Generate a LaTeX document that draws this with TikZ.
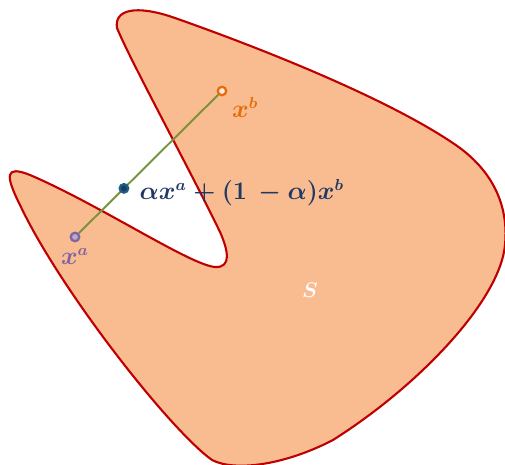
\documentclass[tikz,border=0pt]{standalone}
\usepackage{xcolor}
\usepackage{tikz}
\usetikzlibrary{positioning,calc}
\definecolor{setfill}{RGB}{248,188,144}
\definecolor{setline}{RGB}{192,0,0}
\definecolor{segline}{RGB}{119,147,60}
\definecolor{ptpurple}{RGB}{128,100,162}
\definecolor{ptorange}{RGB}{228,108,10}
\definecolor{ptnavy}{RGB}{31,56,100}

\begin{document}
\begin{tikzpicture}[x=0.02cm, y=-0.02cm,
  ptdot/.style={circle, draw, line width=1.3pt, inner sep=0pt, minimum size=0.17cm},
  ptlbl/.style={inner sep=0pt, font=\fontsize{13.5}{16}\selectfont\boldmath}]
\useasboundingbox (0,0) rectangle (505,465);

% ================= the set S =================
% non-convex blob with a notch cut in from the left
\draw[setline, fill=setfill, line width=1.2pt, line join=round]
  (117,28) .. controls (114,10) and (135,4) .. (175,18)
  .. controls (280,55) and (400,105) .. (460,148)
  .. controls (500,178) and (508,215) .. (505,245)
  .. controls (500,300) and (420,385) .. (333,440)
  .. controls (285,465) and (235,472) .. (212,460)
  .. controls (170,430) and (60,290) .. (20,205)
  .. controls (5,175) and (5,165) .. (30,175)
  .. controls (100,205) and (190,265) .. (215,267)
  .. controls (232,268) and (228,250) .. (220,232)
  .. controls (190,170) and (130,60) .. (117,28) -- cycle;
\node[text=white, font=\fontsize{13}{15}\selectfont\boldmath] (setS) at (310,290) {$S$};

% ================= end points and segment =================
\node[ptdot, draw=ptpurple, fill=ptpurple!55] (xa) at (75,237) {};
\node[ptdot, draw=ptorange, fill=ptorange!15] (xb) at (222,91) {};
\draw[segline, line width=1.1pt] (xa) -- (xb);
\node[ptdot, draw=ptnavy!80!cyan, fill=ptnavy] (xm) at ($(xa)!0.333!(xb)$) {};

% labels
\node[ptlbl, text=ptpurple, below=0.12cm of xa] (laba) {$x^a$};
\node[ptlbl, text=ptorange, below right=0.05cm and 0.12cm of xb] (labb) {$x^b$};
\node[ptlbl, text=ptnavy, right=0.2cm of xm, yshift=-0.09cm] (labm)
  {$\alpha x^a+(1\,-\alpha)x^b$};
\end{tikzpicture}
\end{document}
